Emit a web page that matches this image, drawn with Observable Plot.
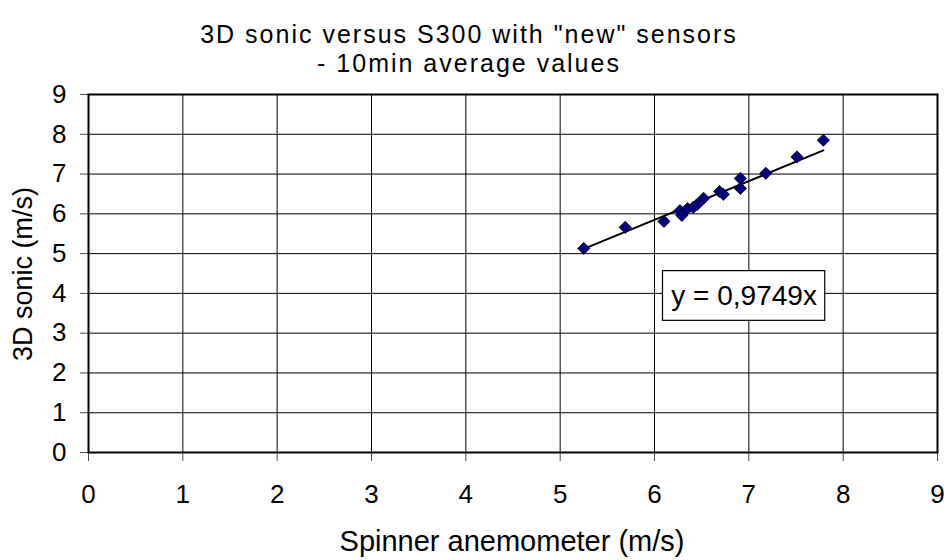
<!DOCTYPE html>
<html><head><meta charset="utf-8">
<script src="https://cdn.jsdelivr.net/npm/d3@7"></script>
<script src="https://cdn.jsdelivr.net/npm/@observablehq/plot@0.6"></script>
<style>
body{margin:0;background:#fff;font-family:"Liberation Sans",Arial,sans-serif;}
#wrap{position:relative;width:944px;height:560px;}
.tl{position:absolute;left:0;width:938px;text-align:center;font-size:25px;line-height:29px;letter-spacing:2px;color:#000;white-space:nowrap;}
#xlab{position:absolute;left:0;top:526px;width:1024px;text-align:center;font-size:29px;line-height:30px;color:#000;}
#ylab{position:absolute;left:23px;top:274px;transform:translate(-50%,-50%) rotate(-90deg);white-space:nowrap;font-size:27px;color:#000;}
#chart{position:absolute;left:0;top:80px;}
#chart svg g[aria-label="x-axis tick label"] text,
#chart svg g[aria-label="y-axis tick label"] text{font-size:26px;}
</style></head>
<body><div id="wrap">
<div class="tl" style="top:20px">3D sonic versus S300 with "new" sensors</div>
<div class="tl" style="top:49px">- 10min average values</div>
<div id="chart"></div>
<div id="ylab">3D sonic (m/s)</div>
<div id="xlab">Spinner anemometer (m/s)</div>
</div>
<script>
const spinner = [5.25, 5.69, 6.10, 6.27, 6.29, 6.35, 6.41, 6.45, 6.52, 6.69, 6.73, 6.91, 6.91, 7.18, 7.51, 7.79];
const sonic   = [5.13, 5.66, 5.81, 6.08, 5.96, 6.13, 6.16, 6.23, 6.39, 6.56, 6.49, 6.89, 6.64, 7.02, 7.43, 7.85];
const fitSlope = 0.9749;
const fitX = [5.25, 7.79];
const ticks = [0,1,2,3,4,5,6,7,8,9];
const eqLabel = ["y = 0,9749x"];
const eqBox = {x1: 6.09, x2: 7.81, y1: 3.31, y2: 4.56};

const pts = spinner.map((v,i)=>({x:v, y:sonic[i]}));
const fit = fitX.map(x=>({x, y: fitSlope*x}));

const chart = Plot.plot({
  width: 944, height: 480,
  marginLeft: 88, marginRight: 7, marginTop: 14, marginBottom: 108,
  style: {fontFamily: '"Liberation Sans", Arial, sans-serif', fontSize: "26px", color: "#000", background: "#fff"},
  x: {domain: [0,9], label: null},
  y: {domain: [0,9], label: null},
  marks: [
    Plot.gridX(ticks, {stroke: "#000", strokeOpacity: 1, strokeWidth: 1}),
    Plot.gridY(ticks, {stroke: "#000", strokeOpacity: 1, strokeWidth: 1}),
    Plot.axisX({ticks: ticks, tickSize: 9, tickPadding: 23, fontSize: 26, stroke: "#000", strokeOpacity: 0.7, tickFormat: d3.format("d"), label: null}),
    Plot.axisY({ticks: ticks, tickSize: 8, tickPadding: 14, fontSize: 26, stroke: "#000", strokeOpacity: 0.7, tickFormat: d3.format("d"), label: null}),
    Plot.frame({stroke: "#000", strokeWidth: 2}),
    Plot.line(fit, {x: "x", y: "y", stroke: "#000", strokeWidth: 2}),
    Plot.dot(pts, {x: "x", y: "y", symbol: "diamond2", r: 5.5, fill: "#000080", stroke: "#000", strokeWidth: 0.8}),
    Plot.rect([eqBox], {x1: "x1", x2: "x2", y1: "y1", y2: "y2", fill: "#fff", stroke: "#000", strokeWidth: 1.2}),
    Plot.text(eqLabel, {x: (eqBox.x1+eqBox.x2)/2, y: (eqBox.y1+eqBox.y2)/2, text: d=>d, fontSize: 28, fill: "#000"})
  ]
});
document.getElementById("chart").appendChild(chart);
</script>
</body></html>
